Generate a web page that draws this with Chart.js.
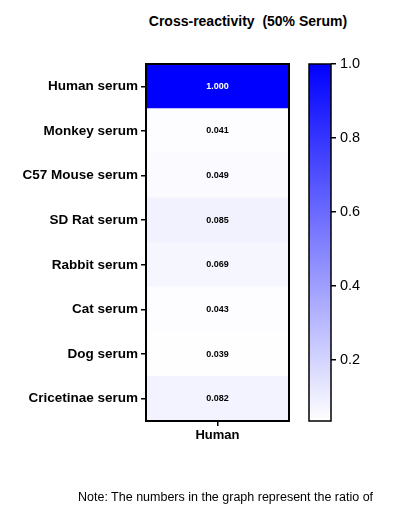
<!DOCTYPE html><html><head><meta charset="utf-8">
<script src="https://cdn.jsdelivr.net/npm/chart.js@4"></script>
<style>body{margin:0;width:405px;height:507px;position:relative;background:#fff;font-family:"Liberation Sans",Arial,sans-serif;overflow:hidden}
#c1{position:absolute;left:0;top:0}#c2{position:absolute;left:300px;top:0}
#t{position:absolute;left:128px;top:13px;width:240px;text-align:center;font-weight:bold;font-size:14px;white-space:pre}
#n{position:absolute;left:78px;top:489px;font-size:12.5px;line-height:17px;white-space:nowrap}</style></head><body>
<div id="t">Cross-reactivity  (50% Serum)</div>
<canvas id="c1" width="300" height="507" style="width:300px;height:507px"></canvas>
<canvas id="c2" width="105" height="507" style="width:105px;height:507px"></canvas>
<div id="n">Note: The numbers in the graph represent the ratio of<br>O.D. (450 nm) between different samples.</div>
<script>
const rows=["Human serum","Monkey serum","C57 Mouse serum","SD Rat serum","Rabbit serum","Cat serum","Dog serum","Cricetinae serum"];
const columns=["Human"];
const values=[1.000,0.041,0.049,0.085,0.069,0.043,0.039,0.082];
const scaleMin=0.035, scaleMax=1.0;
const colorTicks=[0.2,0.4,0.6,0.8,1.0];
function col(v){const t=Math.max(0,Math.min(1,(v-scaleMin)/(scaleMax-scaleMin)));const c=Math.round(255*(1-t));return `rgb(${c},${c},255)`;}
const F='"Liberation Sans",Arial,sans-serif';
new Chart(document.getElementById('c1'),{type:'bar',
data:{labels:rows,datasets:[{data:values.map(()=>[0,1]),backgroundColor:values.map(col),barPercentage:1,categoryPercentage:1,borderWidth:0}]},
options:{indexAxis:'y',responsive:false,animation:false,events:[],layout:{padding:{top:64,right:11}},
plugins:{legend:{display:false},tooltip:{enabled:false}},
scales:{x:{type:'linear',min:0,max:1,display:false},
x2:{type:'category',labels:columns,position:'bottom',offset:true,afterFit:s=>{s.height=86},grid:{drawOnChartArea:false,tickLength:5,color:'#000',lineWidth:1.5,offset:false},border:{display:false},ticks:{color:'#000',font:{family:F,size:13,weight:'bold'},padding:2}},
y:{afterFit:s=>{s.width=146},grid:{drawOnChartArea:false,tickLength:5,color:'#000',lineWidth:1.5,offset:false},border:{display:false},ticks:{color:'#000',font:{family:F,size:13.5,weight:'bold'},padding:3}}}},
plugins:[{id:'cells',afterDatasetsDraw(ch){const ctx=ch.ctx,a=ch.chartArea;const m=ch.getDatasetMeta(0);ctx.save();ctx.font='bold 9px '+F;ctx.textAlign='center';ctx.textBaseline='middle';
m.data.forEach((b,i)=>{ctx.fillStyle=values[i]>0.5?'#fff':'#000';ctx.fillText(values[i].toFixed(3),(a.left+a.right)/2,b.y);});
ctx.strokeStyle='#000';ctx.lineWidth=2;ctx.strokeRect(a.left,a.top,a.right-a.left,a.bottom-a.top);ctx.restore();}}]});
new Chart(document.getElementById('c2'),{type:'bar',
data:{labels:['c'],datasets:[{data:[[scaleMin,scaleMax]],barPercentage:1,categoryPercentage:1,borderWidth:0,
backgroundColor:(c)=>{const a=c.chart.chartArea;if(!a)return '#fff';const g=c.chart.ctx.createLinearGradient(0,a.bottom,0,a.top);g.addColorStop(0,'#fff');g.addColorStop(1,'#0000ff');return g;}}]},
options:{responsive:false,animation:false,events:[],layout:{padding:{top:64,left:9,bottom:86}},
plugins:{legend:{display:false},tooltip:{enabled:false}},
scales:{x:{display:false},y:{position:'right',min:scaleMin,max:scaleMax,afterFit:s=>{s.width=74},afterBuildTicks:s=>{s.ticks=colorTicks.map(v=>({value:v}))},
grid:{drawOnChartArea:false,tickLength:5,color:'#000',lineWidth:1.5},border:{display:false},ticks:{color:'#000',font:{family:F,size:14.5},padding:4,callback:v=>v.toFixed(1)}}}},
plugins:[{id:'box',afterDatasetsDraw(ch){const ctx=ch.ctx,a=ch.chartArea;ctx.save();ctx.strokeStyle='#000';ctx.lineWidth=1.5;ctx.strokeRect(a.left,a.top,a.right-a.left,a.bottom-a.top);ctx.restore();}}]});
</script></body></html>
